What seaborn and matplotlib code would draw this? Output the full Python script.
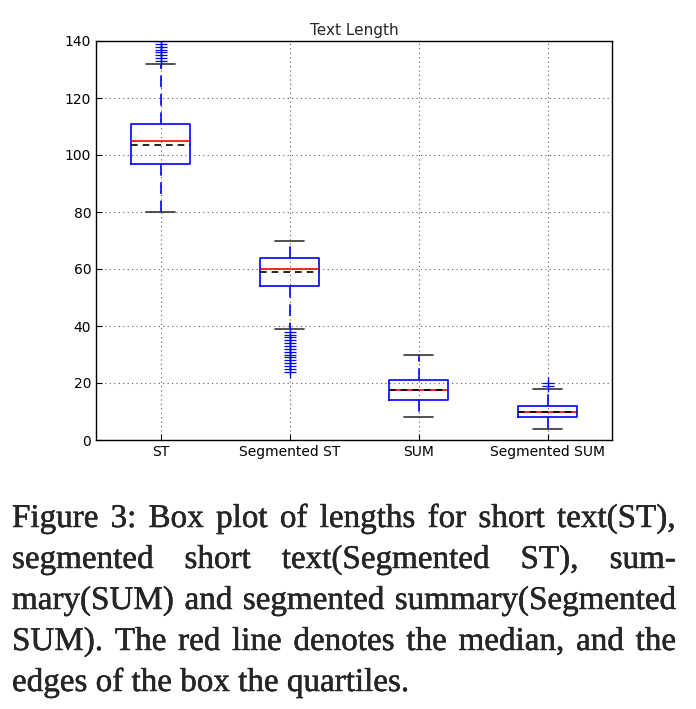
import matplotlib
matplotlib.use("Agg")
import matplotlib.pyplot as plt
import matplotlib.patheffects as pe
import seaborn as sns

categories = ["ST", "Segmented ST", "SUM", "Segmented SUM"]
whislo = [80, 39, 8, 4]
q1 = [97, 54, 14, 8]
med = [105, 60, 17.5, 10]
mean = [103.5, 59, 17.5, 10]
q3 = [111, 64, 21, 12]
whishi = [132, 70, 30, 18]
fliers = [
    [133, 134, 135, 136, 137, 138, 139, 140],
    [38, 37, 36, 35, 34, 33, 32, 31, 30, 29, 28, 27, 26, 25, 24],
    [],
    [19, 20],
]
yticks = [0, 20, 40, 60, 80, 100, 120, 140]
title = "Text Length"
caption_lines = [
    "Figure 3: Box plot of lengths for short text(ST),",
    "segmented short text(Segmented ST), sum-",
    "mary(SUM) and segmented summary(Segmented",
    "SUM). The red line denotes the median, and the",
    "edges of the box the quartiles.",
]

sns.set_style("ticks")
plt.rcParams["font.family"] = ["DejaVu Sans"]

W, H = 696, 709
fig = plt.figure(figsize=(W / 100, H / 100), dpi=100)
ax = fig.add_axes([96 / W, 1 - 440 / H, (612 - 96) / W, (440 - 41) / H])

stats = []
for i, c in enumerate(categories):
    stats.append(dict(label=c, whislo=whislo[i], q1=q1[i], med=med[i], mean=mean[i],
                      q3=q3[i], whishi=whishi[i], fliers=fliers[i]))

ax.bxp(stats, showmeans=True, meanline=True, widths=0.45,
       boxprops=dict(color="blue", linewidth=1.2),
       whiskerprops=dict(color="blue", linestyle=(0, (7, 4)), linewidth=1.2),
       capprops=dict(color="#333333", linewidth=1.2),
       medianprops=dict(color="red", linewidth=1.2),
       meanprops=dict(color="black", linestyle=(0, (4, 3)), linewidth=1.2),
       flierprops=dict(marker="+", markeredgecolor="blue", markersize=9,
                       markeredgewidth=0.9, linestyle="none"))

ax.set_ylim(0, 140)
ax.set_xlim(0.5, 4.5)
ax.set_yticks(yticks)
ax.set_yticklabels([str(v) for v in yticks])
ax.grid(True, linestyle=(0, (1, 3)), color="#555555", linewidth=0.8)
ax.set_axisbelow(True)
ax.tick_params(direction="in", length=4, width=0.8, labelsize=10, colors="black")
for s in ax.spines.values():
    s.set_visible(True)
    s.set_linewidth(1.0)
    s.set_color("black")
ax.set_title(title, fontsize=11, pad=4)

# caption, justified
x0, x1 = 12, 676
baselines = [527, 568, 609, 650, 691]
renderer = fig.canvas.get_renderer()
fam = "Liberation Serif"
effects = [pe.withStroke(linewidth=0.3, foreground="black")]

def width_of(s, fs):
    t = fig.text(0, 0, s, fontsize=fs, family=fam)
    w = t.get_window_extent(renderer=renderer).width
    t.remove()
    return w

base_fs = 20
w1 = width_of(caption_lines[0], base_fs)
fs = base_fs * (x1 - x0) / w1 * 0.95

for li, (line, yb) in enumerate(zip(caption_lines, baselines)):
    yf = 1 - yb / H
    if li == len(caption_lines) - 1:
        fig.text(x0 / W, yf, line, fontsize=fs, family=fam,
                 va="baseline", ha="left", path_effects=effects)
        continue
    words = line.split(" ")
    widths = [width_of(w, fs) for w in words]
    gap = (x1 - x0 - sum(widths)) / (len(words) - 1)
    x = x0
    for w, wd in zip(words, widths):
        fig.text(x / W, yf, w, fontsize=fs, family=fam,
                 va="baseline", ha="left", path_effects=effects)
        x += wd + gap

fig.savefig("out.png", dpi=100)
